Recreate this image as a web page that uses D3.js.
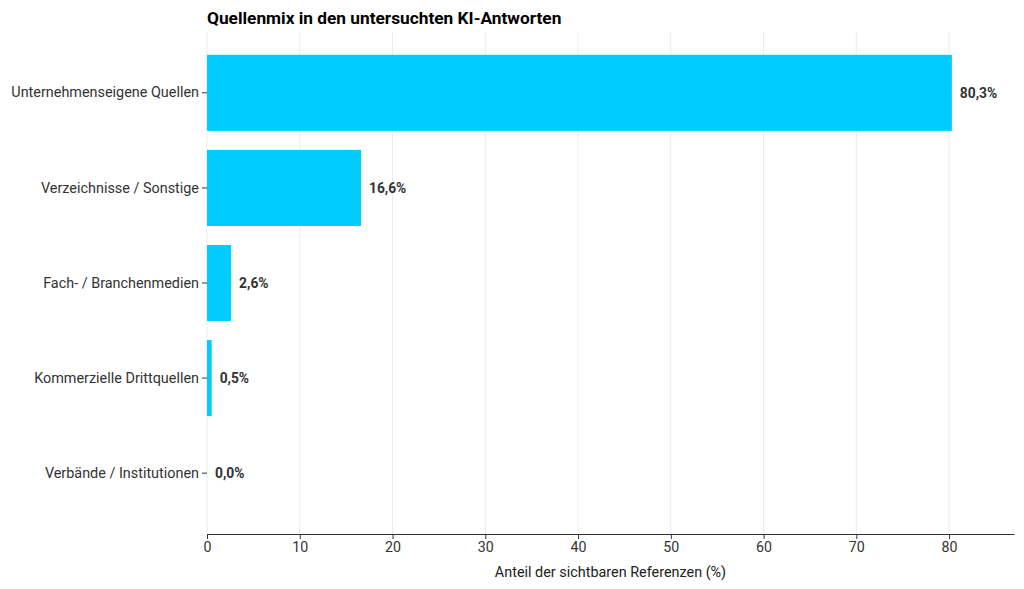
<!DOCTYPE html>
<html>
<head>
<meta charset="utf-8">
<script src="https://cdn.jsdelivr.net/npm/d3@7"></script>
<style>
  body { margin: 0; background: #fff; }
  text { font-family: Roboto, "Noto Sans", sans-serif; }
</style>
</head>
<body>
<div id="chart"></div>
<script>
let categories = ["Unternehmenseigene Quellen", "Verzeichnisse / Sonstige", "Fach- / Branchenmedien",
  "Kommerzielle Drittquellen", "Verbände / Institutionen"];
let values = [80.3, 16.6, 2.6, 0.5, 0.0];
let xTicks = [0, 10, 20, 30, 40, 50, 60, 70, 80];

let width = 1024;
let height = 589;
let margin = {top: 32, right: 10, bottom: 55, left: 207};

let svg = d3.select("#chart").append("svg")
  .attr("width", width)
  .attr("height", height);

let x = d3.scaleLinear()
  .domain([0, 87])
  .range([margin.left, width - margin.right]);

let y = d3.scaleBand()
  .domain(categories)
  .range([margin.top, height - margin.bottom])
  .paddingInner(0.2)
  .paddingOuter(0.24);

let fmt = v => v.toFixed(1).replace(".", ",") + "%";

// grid
svg.append("g")
  .selectAll("line")
  .data(xTicks)
  .join("line")
  .attr("x1", d => x(d))
  .attr("x2", d => x(d))
  .attr("y1", margin.top)
  .attr("y2", height - margin.bottom)
  .attr("stroke", "#ebebeb")
  .attr("stroke-width", 1);

// bars
svg.append("g")
  .selectAll("rect")
  .data(values)
  .join("rect")
  .attr("x", x(0))
  .attr("y", (d, i) => y(categories[i]))
  .attr("width", d => x(d) - x(0))
  .attr("height", y.bandwidth())
  .attr("fill", "#00ccff");

// value labels
svg.append("g")
  .selectAll("text")
  .data(values)
  .join("text")
  .attr("x", d => x(d) + 8)
  .attr("y", (d, i) => y(categories[i]) + y.bandwidth() / 2)
  .attr("dy", "0.35em")
  .attr("font-size", 13.8)
  .attr("font-weight", "bold")
  .attr("fill", "#333")
  .text(d => fmt(d));

// x axis
let xAxis = svg.append("g")
  .attr("transform", `translate(0,${height - margin.bottom})`)
  .call(d3.axisBottom(x).tickValues(xTicks).tickSize(5).tickSizeOuter(0));
xAxis.select(".domain").attr("stroke", "#333").attr("stroke-width", 1.2);
xAxis.selectAll(".tick line").attr("stroke", "#333");
xAxis.selectAll("text").attr("font-size", 14.2).attr("fill", "#333")
  .attr("font-family", "Roboto, sans-serif");

// y axis
let yAxis = svg.append("g")
  .attr("transform", `translate(${margin.left},0)`)
  .call(d3.axisLeft(y).tickSize(5));
yAxis.select(".domain").remove();
yAxis.selectAll(".tick line").attr("stroke", "#333");
yAxis.selectAll("text").attr("font-size", 14.4).attr("fill", "#333")
  .attr("font-family", "Roboto, sans-serif");

// axis title
svg.append("text")
  .attr("x", (x(0) + x(87)) / 2)
  .attr("y", 577)
  .attr("text-anchor", "middle")
  .attr("font-size", 14.4)
  .attr("fill", "#222")
  .text("Anteil der sichtbaren Referenzen (%)");

// title
svg.append("text")
  .attr("x", margin.left)
  .attr("y", 24)
  .attr("font-size", 17.3)
  .attr("font-weight", "bold")
  .attr("fill", "#000")
  .text("Quellenmix in den untersuchten KI-Antworten");
</script>
</body>
</html>
